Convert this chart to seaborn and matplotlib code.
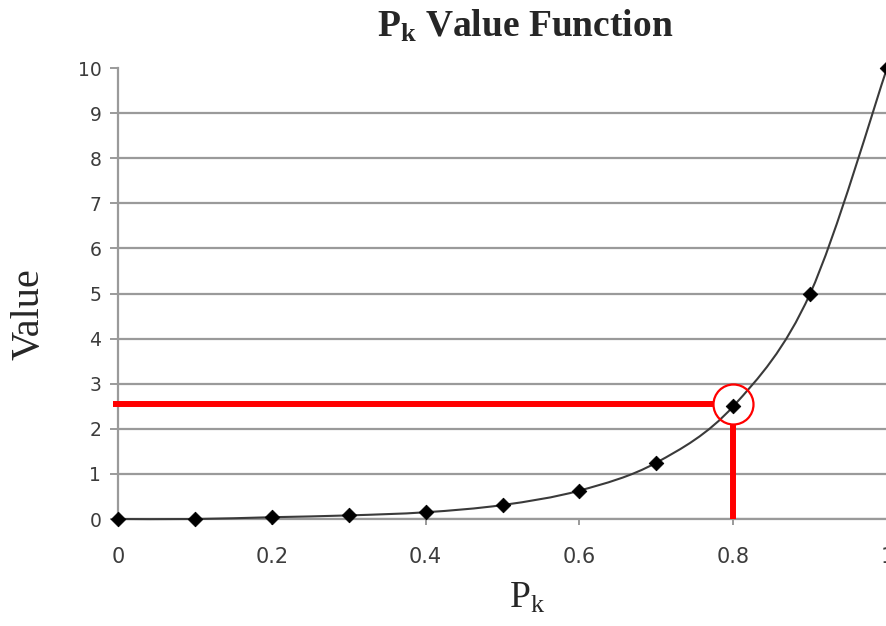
import numpy as np
import pandas as pd
import matplotlib
matplotlib.use("Agg")
import matplotlib.pyplot as plt
from matplotlib.path import Path
from matplotlib.patches import PathPatch
import seaborn as sns

# Value of the P_k function at each tenth
pk = [0.0, 0.1, 0.2, 0.3, 0.4, 0.5, 0.6, 0.7, 0.8, 0.9, 1.0]
value = [0.0, 0.0, 0.04, 0.08, 0.15, 0.31, 0.63, 1.25, 2.5, 5.0, 10.0]

x_ticks = [0, 0.2, 0.4, 0.6, 0.8, 1]
x_tick_labels = ["0", "0.2", "0.4", "0.6", "0.8", "1"]
y_ticks = list(range(0, 11))

# highlighted reading
hi_pk = 0.8
hi_value = 2.56

sns.set_theme(style="white")
plt.rcParams["mathtext.fontset"] = "custom"
plt.rcParams["mathtext.rm"] = "Liberation Serif"
plt.rcParams["mathtext.it"] = "Liberation Serif:italic"
plt.rcParams["mathtext.bf"] = "Liberation Serif:bold"

df = pd.DataFrame({"pk": pk, "value": value})

W, H = 886, 626
fig = plt.figure(figsize=(W / 100, H / 100), dpi=100)
ax = fig.add_axes([0.1332, 0.1709, 0.868, 0.7204])

# horizontal grid
grid_c = "#9a9a9a"
for yv in y_ticks[:-1]:
    ax.axhline(yv, color=grid_c, lw=1.6, zorder=1)

# smooth curve through the points (Catmull-Rom as cubic Bezier segments)
pts = np.column_stack([pk, value])
ext = np.vstack([pts[0], pts, pts[-1]])
verts = [tuple(pts[0])]
codes = [Path.MOVETO]
for i in range(1, len(ext) - 2):
    p0, p1, p2, p3 = ext[i - 1], ext[i], ext[i + 1], ext[i + 2]
    c1 = p1 + (p2 - p0) / 6.0
    c2 = p2 - (p3 - p1) / 6.0
    verts += [tuple(c1), tuple(c2), tuple(p2)]
    codes += [Path.CURVE4] * 3
curve = PathPatch(Path(verts, codes), facecolor="none", edgecolor="#3a3a3a",
                  lw=1.5, zorder=3, clip_on=False)
ax.add_patch(curve)

sns.scatterplot(data=df, x="pk", y="value", marker="D", s=55, color="black",
                edgecolor="black", zorder=4, clip_on=False, ax=ax, legend=False)

# red read-off lines and circle
red = "#ff0000"
r_px = 20
ax.plot([-0.007, hi_pk - 0.026], [hi_value, hi_value], color=red, lw=4.3,
        solid_capstyle="butt", zorder=5, clip_on=False)
ax.plot([hi_pk, hi_pk], [0, hi_value - 0.45], color=red, lw=4.3,
        solid_capstyle="butt", zorder=5, clip_on=False)
ax.plot([hi_pk], [hi_value], marker="o", ms=2 * r_px / 1.389, mfc="none",
        mec=red, mew=1.6, zorder=6, clip_on=False)

ax.set_xlim(0, 1)
ax.set_ylim(0, 10)
ax.set_xticks(x_ticks)
ax.set_xticklabels(x_tick_labels)
ax.set_yticks(y_ticks)

for s in ["top", "right"]:
    ax.spines[s].set_visible(False)
ax.spines["left"].set_color(grid_c)
ax.spines["left"].set_linewidth(1.6)
ax.spines["bottom"].set_color(grid_c)
ax.spines["bottom"].set_linewidth(1.6)

ax.tick_params(axis="y", direction="out", length=6, width=1.4, color=grid_c,
               pad=6, labelcolor="#3c3c3c", left=True)
ax.tick_params(axis="x", direction="out", length=4, width=1.4, color=grid_c,
               pad=16, labelcolor="#3c3c3c", bottom=True)
for lab in ax.get_xticklabels():
    lab.set_fontfamily("DejaVu Sans")
    lab.set_fontsize(15)
for lab in ax.get_yticklabels():
    lab.set_fontfamily("DejaVu Sans")
    lab.set_fontsize(13.5)

ax.set_xlabel("")
ax.set_ylabel("")
fig.text(527 / W, 1 - 598 / H, r"$\mathrm{P}_\mathrm{k}$", fontsize=27,
         ha="center", va="center")
fig.text(29 / W, 1 - 314 / H, "Value", family="Liberation Serif", fontsize=29,
         rotation=90, ha="center", va="center")
fig.text(525 / W, 1 - 26 / H, r"$\mathbf{P}_\mathbf{k}$ Value Function",
         family="Liberation Serif", weight="bold", fontsize=27,
         ha="center", va="center")

fig.savefig("out.png", dpi=100)
